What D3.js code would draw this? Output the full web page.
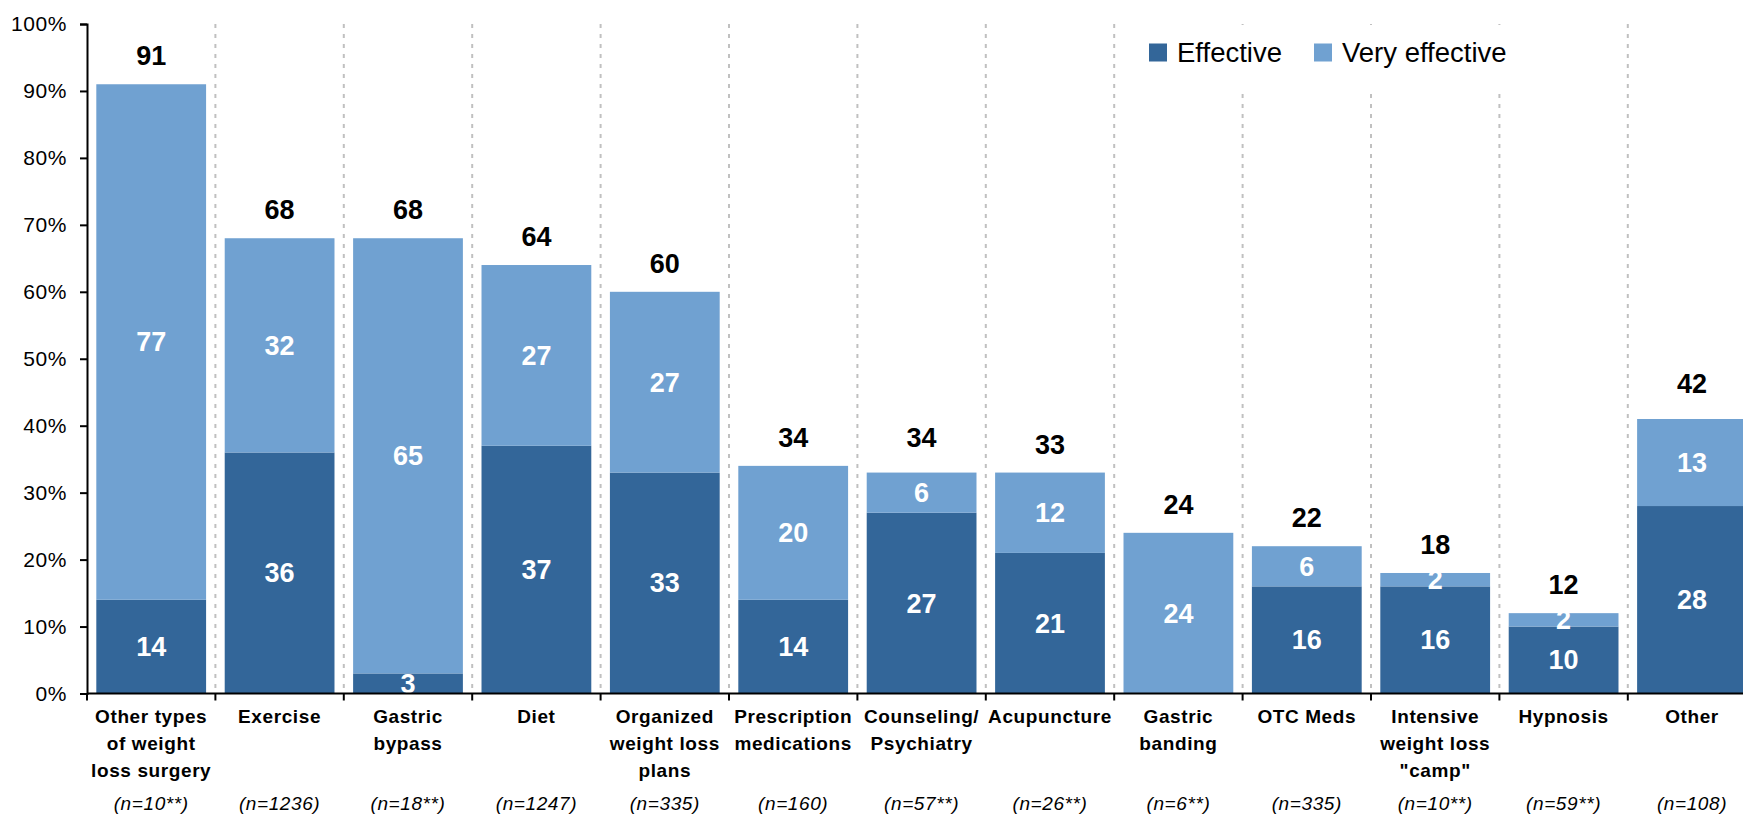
<!DOCTYPE html>
<html>
<head>
<meta charset="utf-8">
<script src="https://cdn.jsdelivr.net/npm/d3@7"></script>
<style>
  html, body { margin: 0; padding: 0; background: #ffffff; overflow: hidden; }
  svg { display: block; font-family: "Liberation Sans", Arial, Helvetica, sans-serif; }
</style>
</head>
<body>
<svg id="chart" width="1743" height="815"></svg>
<script>
// Category labels (line breaks as in the printed axis)
const categories = [
  "Other types\nof weight\nloss surgery",
  "Exercise",
  "Gastric\nbypass",
  "Diet",
  "Organized\nweight loss\nplans",
  "Prescription\nmedications",
  "Counseling/\nPsychiatry",
  "Acupuncture",
  "Gastric\nbanding",
  "OTC Meds",
  "Intensive\nweight loss\n\"camp\"",
  "Hypnosis",
  "Other"
];
const sampleSizes = ["(n=10**)", "(n=1236)", "(n=18**)", "(n=1247)", "(n=335)", "(n=160)",
  "(n=57**)", "(n=26**)", "(n=6**)", "(n=335)", "(n=10**)", "(n=59**)", "(n=108)"];

// Share of respondents (%)
const effective     = [14, 36,  3, 37, 33, 14, 27, 21,  0, 16, 16, 10, 28];
const veryEffective = [77, 32, 65, 27, 27, 20,  6, 12, 24,  6,  2,  2, 13];
const totals        = [91, 68, 68, 64, 60, 34, 34, 33, 24, 22, 18, 12, 42];

const yTicks = [0, 10, 20, 30, 40, 50, 60, 70, 80, 90, 100];
const seriesNames = ["Effective", "Very effective"];
const colors = ["#336699", "#70a1d1"];

const svg = d3.select("#chart");

const step = 128.4;
const x0 = 87;
const x = d3.scaleBand()
  .domain(d3.range(categories.length))
  .range([x0, x0 + step * categories.length])
  .paddingInner(0.145)
  .paddingOuter(0.0725);

const y = d3.scaleLinear().domain([0, 100]).range([693.5, 24]);

// Stack the two series
const rows = categories.map((c, i) => ({ i, Effective: effective[i], "Very effective": veryEffective[i] }));
const stacked = d3.stack().keys(seriesNames)(rows);

// Dashed separators between categories
const bounds = d3.range(1, categories.length).map(k => x(k) - x.step() * x.paddingInner() / 2);
svg.append("g")
  .selectAll("line")
  .data(bounds)
  .join("line")
  .attr("x1", d => d).attr("x2", d => d)
  .attr("y1", y(100)).attr("y2", y(0))
  .attr("stroke", "#c0c0c0")
  .attr("stroke-width", 2)
  .attr("stroke-dasharray", "4,6");

// Bars
svg.append("g")
  .selectAll("g")
  .data(stacked)
  .join("g")
  .attr("fill", (d, k) => colors[k])
  .selectAll("rect")
  .data(d => d)
  .join("rect")
  .attr("x", d => x(d.data.i))
  .attr("width", x.bandwidth())
  .attr("y", d => y(d[1]))
  .attr("height", d => y(d[0]) - y(d[1]));

// Segment value labels
const segLabels = [];
stacked.forEach(s => s.forEach(d => {
  const v = d[1] - d[0];
  if (v > 0) segLabels.push({ i: d.data.i, v, mid: (d[0] + d[1]) / 2 });
}));
svg.append("g")
  .selectAll("text")
  .data(segLabels)
  .join("text")
  .attr("x", d => x(d.i) + x.bandwidth() / 2)
  .attr("y", d => y(d.mid))
  .attr("dy", "0.35em")
  .attr("text-anchor", "middle")
  .attr("fill", "#ffffff")
  .attr("font-weight", "bold")
  .attr("font-size", 27)
  .text(d => d.v);

// Total labels
svg.append("g")
  .selectAll("text")
  .data(totals)
  .join("text")
  .attr("x", (d, i) => x(i) + x.bandwidth() / 2)
  .attr("y", d => y(d) - 19)
  .attr("text-anchor", "middle")
  .attr("fill", "#000000")
  .attr("font-weight", "bold")
  .attr("font-size", 27)
  .text(d => d);

// Y axis
const yAxis = svg.append("g")
  .attr("transform", `translate(${x0},0)`)
  .call(d3.axisLeft(y).tickValues(yTicks).tickFormat(d => d + "%").tickSize(7).tickPadding(13));
yAxis.select(".domain").attr("stroke", "#000").attr("stroke-width", 2);
yAxis.selectAll(".tick line").attr("stroke", "#000").attr("stroke-width", 2);
yAxis.selectAll(".tick text")
  .attr("font-family", "'Liberation Sans', Arial, sans-serif")
  .attr("font-size", 21)
  .attr("letter-spacing", 0.6)
  .attr("fill", "#000");

// X axis line with ticks at category boundaries
const xAxis = svg.append("g");
xAxis.append("line")
  .attr("x1", x0).attr("x2", x0 + step * categories.length)
  .attr("y1", y(0)).attr("y2", y(0))
  .attr("stroke", "#000").attr("stroke-width", 2);
xAxis.selectAll("line.tk")
  .data([x0].concat(bounds))
  .join("line")
  .attr("class", "tk")
  .attr("x1", d => d).attr("x2", d => d)
  .attr("y1", y(0)).attr("y2", y(0) + 7)
  .attr("stroke", "#000").attr("stroke-width", 2);

// Category labels
const catG = svg.append("g");
categories.forEach((c, i) => {
  const t = catG.append("text")
    .attr("x", x(i) + x.bandwidth() / 2)
    .attr("y", 723)
    .attr("text-anchor", "middle")
    .attr("font-weight", "bold")
    .attr("font-size", 19)
    .attr("letter-spacing", 0.6)
    .attr("fill", "#000");
  c.split("\n").forEach((line, j) => {
    t.append("tspan")
      .attr("x", x(i) + x.bandwidth() / 2)
      .attr("y", 723 + j * 27)
      .text(line);
  });
});

// Sample sizes
svg.append("g")
  .selectAll("text")
  .data(sampleSizes)
  .join("text")
  .attr("x", (d, i) => x(i) + x.bandwidth() / 2)
  .attr("y", 810)
  .attr("text-anchor", "middle")
  .attr("font-style", "italic")
  .attr("font-size", 19)
  .attr("letter-spacing", 0.6)
  .attr("fill", "#000")
  .text(d => d);

// Legend (white panel over the separators)
const legend = svg.append("g");
legend.append("rect")
  .attr("x", 1122).attr("y", 25).attr("width", 500).attr("height", 67)
  .attr("fill", "#ffffff");
const legendX = [1149, 1314];
seriesNames.forEach((name, k) => {
  legend.append("rect")
    .attr("x", legendX[k]).attr("y", 43.5)
    .attr("width", 18).attr("height", 18)
    .attr("fill", colors[k]);
  legend.append("text")
    .attr("x", legendX[k] + 28).attr("y", 61.5)
    .attr("font-size", 27.5)
    .attr("fill", "#000")
    .text(name);
});
</script>
</body>
</html>
